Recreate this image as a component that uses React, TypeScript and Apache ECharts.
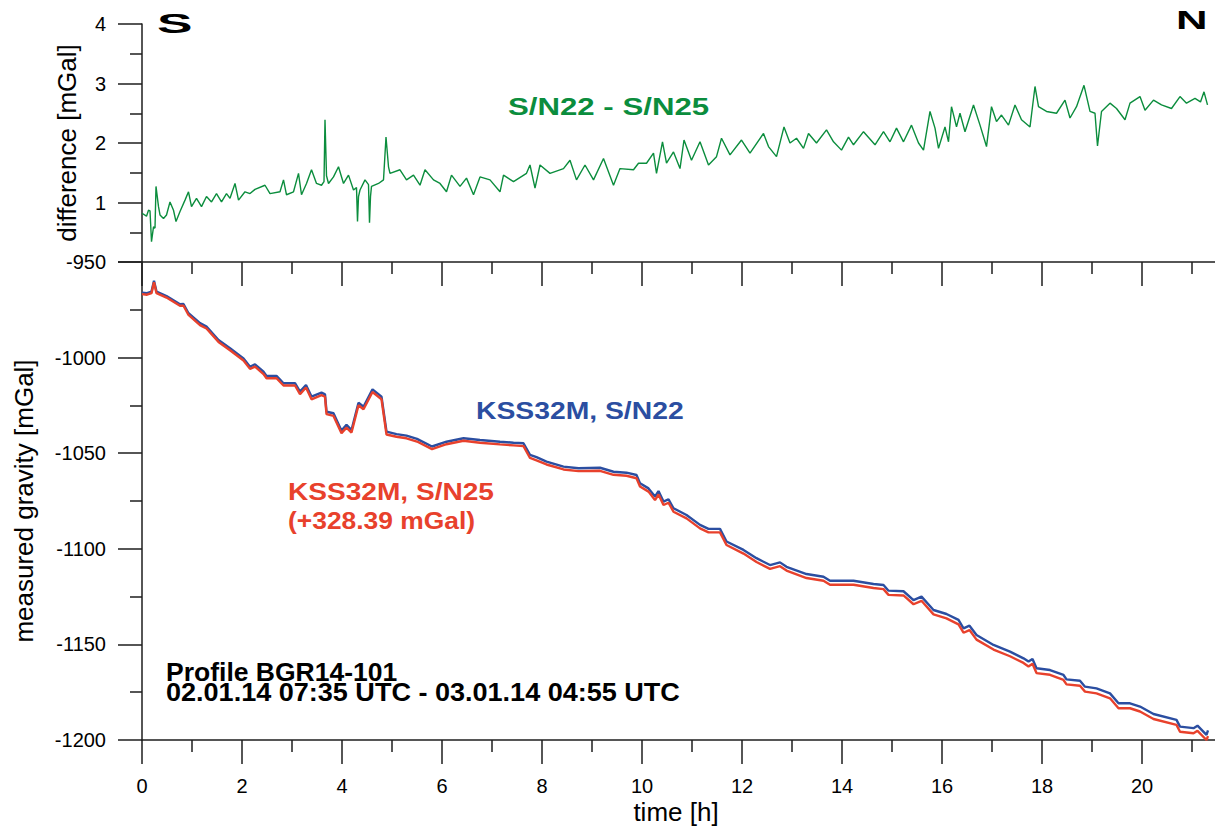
import React, { useEffect, useRef } from "react";
import * as echarts from "echarts";

// ---- data ----
const diffTime = [0,0.09,0.13,0.16,0.19,0.23,0.26,0.28,0.33,0.36,0.43,0.49,0.56,0.63,0.68,0.76,0.86,0.93,0.99,1.09,1.19,1.29,1.39,1.49,1.59,1.69,1.76,1.86,1.93,2.06,2.16,2.26,2.46,2.56,2.76,2.83,2.89,3.03,3.13,3.19,3.29,3.39,3.49,3.59,3.64,3.66,3.69,3.73,3.83,3.93,4.03,4.13,4.23,4.29,4.31,4.33,4.36,4.46,4.53,4.55,4.57,4.59,4.73,4.83,4.88,4.93,4.96,5.16,5.29,5.43,5.56,5.66,5.83,5.96,6.09,6.19,6.36,6.49,6.63,6.76,6.96,7.16,7.23,7.43,7.69,7.76,7.86,7.96,8.16,8.43,8.56,8.69,8.86,9.03,9.23,9.43,9.56,9.83,9.93,10.09,10.23,10.29,10.41,10.49,10.63,10.76,10.84,10.99,11.16,11.33,11.49,11.59,11.76,11.99,12.16,12.43,12.53,12.69,12.84,12.96,13.09,13.23,13.33,13.49,13.69,13.83,13.99,14.13,14.23,14.43,14.66,14.83,14.96,15.09,15.23,15.39,15.53,15.63,15.76,15.86,15.93,16.06,16.13,16.19,16.29,16.36,16.46,16.63,16.76,16.89,16.99,17.09,17.19,17.33,17.46,17.59,17.76,17.86,17.93,18.09,18.29,18.46,18.56,18.69,18.84,18.96,19.06,19.11,19.19,19.36,19.49,19.66,19.76,19.96,20.06,20.23,20.39,20.59,20.76,20.89,21.06,21.17,21.24,21.31];
const diffValues = [0.82,0.77,0.87,0.86,0.34,0.59,0.57,1.27,0.93,0.79,0.73,0.79,1.01,0.87,0.68,0.85,1.04,1.18,0.93,1.07,0.93,1.10,1.01,1.15,1.01,1.15,1.07,1.32,1.04,1.18,1.15,1.22,1.29,1.15,1.18,1.38,1.13,1.18,1.49,1.13,1.32,1.55,1.32,1.29,1.35,2.39,1.45,1.32,1.43,1.60,1.32,1.46,1.21,1.25,0.68,1.10,1.21,1.38,1.30,0.66,1.10,1.27,1.32,1.38,2.10,1.60,1.49,1.55,1.38,1.46,1.29,1.55,1.38,1.32,1.18,1.46,1.27,1.41,1.13,1.43,1.38,1.18,1.46,1.35,1.49,1.63,1.24,1.63,1.49,1.57,1.71,1.38,1.63,1.38,1.74,1.29,1.57,1.55,1.66,1.66,1.83,1.49,2.02,1.66,1.85,1.57,2.05,1.71,2.02,1.63,1.77,2.08,1.80,2.05,1.83,2.16,1.94,1.77,2.27,2.00,2.08,1.91,2.16,2.00,2.22,2.02,1.88,2.10,1.97,2.19,1.97,2.19,2.02,2.25,2.02,2.30,2.00,1.88,2.53,2.25,1.91,2.27,2.02,2.61,2.27,2.50,2.19,2.64,2.30,1.94,2.61,2.36,2.47,2.30,2.64,2.39,2.27,2.95,2.61,2.53,2.50,2.72,2.42,2.61,2.97,2.53,2.50,1.95,2.53,2.67,2.58,2.39,2.67,2.78,2.55,2.72,2.64,2.58,2.78,2.67,2.75,2.69,2.86,2.64];

const gravTime = [0,0.1,0.19,0.24,0.29,0.49,0.76,0.83,0.93,1.16,1.29,1.53,1.76,2.03,2.16,2.26,2.43,2.49,2.69,2.83,3.06,3.16,3.28,3.39,3.59,3.66,3.69,3.83,3.99,4.09,4.19,4.33,4.43,4.61,4.79,4.89,5.09,5.29,5.5,5.8,6.09,6.43,6.76,7.16,7.43,7.63,7.76,7.89,8.09,8.43,8.73,9.16,9.43,9.69,9.89,9.96,10.13,10.26,10.33,10.43,10.53,10.63,10.89,11.16,11.33,11.56,11.69,12.03,12.29,12.56,12.76,12.89,13.29,13.63,13.76,14.23,14.63,14.83,14.93,15.23,15.43,15.59,15.83,16.09,16.33,16.43,16.55,16.69,17.03,17.36,17.63,17.73,17.81,17.89,18.16,18.43,18.49,18.76,18.86,19.09,19.36,19.53,19.76,19.96,20.23,20.69,20.76,21.03,21.11,21.29,21.32];
const sn22Values = [-966.0,-966.3,-965.5,-959.8,-965.5,-967.8,-972.1,-972.0,-976.8,-982.0,-983.8,-990.8,-995.1,-1000.4,-1004.8,-1003.5,-1007.4,-1009.6,-1009.6,-1013.4,-1013.4,-1017.8,-1014.3,-1020.4,-1018.3,-1019.2,-1028.3,-1029.1,-1038.2,-1035.2,-1037.9,-1023.6,-1025.7,-1016.6,-1020.4,-1038.7,-1040.0,-1040.8,-1042.5,-1046.5,-1044.0,-1042.2,-1043.1,-1044.0,-1044.5,-1044.8,-1050.9,-1052.1,-1054.4,-1057.0,-1057.9,-1057.6,-1059.7,-1060.2,-1061.4,-1065.7,-1068.4,-1072.7,-1069.8,-1075.3,-1074.1,-1078.8,-1082.3,-1087.5,-1089.6,-1089.6,-1096.2,-1100.6,-1104.9,-1108.5,-1107.1,-1109.4,-1113.2,-1114.6,-1116.7,-1116.7,-1118.4,-1118.9,-1121.9,-1122.2,-1126.8,-1125.0,-1132.0,-1134.1,-1137.2,-1141.6,-1140.2,-1145.1,-1150.3,-1153.8,-1157.3,-1159.0,-1157.6,-1162.5,-1163.4,-1166.0,-1168.3,-1169.0,-1172.1,-1173.0,-1175.6,-1180.8,-1180.8,-1182.5,-1186.4,-1189.5,-1193.0,-1193.8,-1192.5,-1197.3,-1195.0];
const sn25Values = [-966.8,-967.1,-966.3,-960.6,-966.3,-968.6,-972.9,-972.9,-977.7,-983.0,-984.8,-991.8,-996.2,-1001.5,-1005.9,-1004.7,-1008.6,-1010.8,-1010.8,-1014.6,-1014.6,-1019.1,-1015.6,-1021.8,-1019.6,-1020.5,-1029.6,-1030.5,-1039.5,-1036.6,-1039.2,-1024.9,-1027.0,-1018.0,-1021.8,-1040.2,-1041.4,-1042.2,-1043.9,-1047.9,-1045.3,-1043.5,-1044.5,-1045.4,-1045.9,-1046.3,-1052.5,-1053.7,-1055.9,-1058.5,-1059.4,-1059.2,-1061.3,-1061.8,-1063.1,-1067.4,-1070.1,-1074.5,-1071.6,-1077.1,-1075.9,-1080.6,-1084.1,-1089.3,-1091.4,-1091.4,-1098.0,-1102.5,-1106.9,-1110.5,-1109.1,-1111.4,-1115.3,-1116.7,-1118.8,-1118.8,-1120.5,-1121.1,-1124.1,-1124.4,-1129.0,-1127.2,-1134.3,-1136.4,-1139.5,-1143.9,-1142.5,-1147.5,-1152.7,-1156.2,-1159.7,-1161.5,-1160.1,-1165.0,-1165.9,-1168.6,-1170.9,-1171.6,-1174.7,-1175.6,-1178.2,-1183.4,-1183.4,-1185.1,-1189.0,-1192.1,-1195.7,-1196.5,-1195.2,-1200.0,-1198.0];

const xRange = { min: 0, max: 22, step: 2 };
const diffRange = { min: 0, max: 4, step: 1 };
const gravRange = { min: -1200, max: -950, step: 50 };

const FONT = '"Liberation Sans", Arial, Helvetica, sans-serif';
const AX = "#1e1e1e";
const GREEN = "#0b8d3d";
const BLUE = "#2b4ea1";
const RED = "#e8412c";

function pairs(xs: number[], ys: number[]) {
  return xs.map((x, i) => [x, ys[i]]);
}

const lineStyle = { color: AX, width: 1.5 };

function xAxisDef(gridIndex: number, labels: boolean) {
  return {
    gridIndex,
    type: "value",
    min: xRange.min,
    max: xRange.max,
    interval: xRange.step,
    position: "bottom",
    axisLine: { show: true, onZero: false, lineStyle },
    axisTick: { show: true, inside: false, length: 24, lineStyle },
    minorTick: { show: true, splitNumber: 2, length: 12, lineStyle },
    splitLine: { show: false },
    minorSplitLine: { show: false },
    axisLabel: {
      show: labels,
      margin: 36,
      fontSize: 20,
      color: "#000",
      fontFamily: FONT,
      formatter: (v: number) => (v > 20 ? "" : String(v)),
    },
  };
}

function yAxisDef(gridIndex: number, r: { min: number; max: number; step: number }, name: string, gap: number, hideZero: boolean) {
  return {
    gridIndex,
    type: "value",
    min: r.min,
    max: r.max,
    interval: r.step,
    position: "left",
    axisLine: { show: true, onZero: false, lineStyle },
    axisTick: { show: true, inside: false, length: 24, lineStyle },
    minorTick: { show: true, splitNumber: 2, length: 12, lineStyle },
    splitLine: { show: false },
    minorSplitLine: { show: false },
    axisLabel: {
      margin: 36,
      fontSize: 20,
      color: "#000",
      fontFamily: FONT,
      showMinLabel: true,
      showMaxLabel: true,
      formatter: (v: number) => (hideZero && v === 0 ? "" : String(v)),
    },
    name,
    nameLocation: "middle",
    nameGap: gap,
    nameTextStyle: { fontSize: 26, color: "#000", fontFamily: FONT },
  };
}

function label(text: string, x: number, y: number, size: number, color: string, scaleX: number, bold = true) {
  return {
    type: "text",
    x,
    y,
    scaleX,
    style: {
      text,
      fill: color,
      fontSize: size,
      fontWeight: bold ? "bold" : "normal",
      fontFamily: FONT,
      align: "left",
      verticalAlign: "middle",
    },
  };
}

export default function App() {
  const ref = useRef<HTMLDivElement>(null);
  useEffect(() => {
    if (!ref.current) return;
    const chart = echarts.init(ref.current, undefined, { renderer: "svg" });
    chart.setOption({
      animation: false,
      backgroundColor: "#ffffff",
      grid: [
        { left: 142, top: 24, width: 1100, height: 238 },
        { left: 142, top: 262, width: 1100, height: 478 },
      ],
      xAxis: [xAxisDef(0, false), xAxisDef(1, true)],
      yAxis: [
        yAxisDef(0, diffRange, "difference [mGal]", 62, true),
        yAxisDef(1, gravRange, "measured gravity [mGal]", 105, false),
      ],
      series: [
        {
          name: "S/N22 - S/N25",
          type: "line",
          xAxisIndex: 0,
          yAxisIndex: 0,
          data: pairs(diffTime, diffValues),
          showSymbol: false,
          symbol: "none",
          lineStyle: { color: GREEN, width: 1.4 },
        },
        {
          name: "KSS32M, S/N22",
          type: "line",
          xAxisIndex: 1,
          yAxisIndex: 1,
          data: pairs(gravTime, sn22Values),
          showSymbol: false,
          symbol: "none",
          lineStyle: { color: BLUE, width: 2.4 },
        },
        {
          name: "KSS32M, S/N25",
          type: "line",
          xAxisIndex: 1,
          yAxisIndex: 1,
          data: pairs(gravTime, sn25Values),
          showSymbol: false,
          symbol: "none",
          lineStyle: { color: RED, width: 2.4 },
        },
      ],
      graphic: [
        label("S", 157, 23, 28, "#000", 1.9),
        label("N", 1176, 21, 25, "#000", 1.75),
        label("S/N22 - S/N25", 508, 106.5, 24, GREEN, 1.3),
        label("KSS32M, S/N22", 476, 411, 24, BLUE, 1.18),
        label("KSS32M, S/N25", 288, 492, 24, RED, 1.17),
        label("(+328.39 mGal)", 288, 520, 24, RED, 1.1),
        label("Profile BGR14-101", 166, 672.5, 26, "#000", 1.02),
        label("02.01.14 07:35 UTC - 03.01.14 04:55 UTC", 166, 692.5, 26, "#000", 1.04),
        {
          type: "text",
          x: 676,
          y: 812,
          style: {
            text: "time [h]",
            fill: "#000",
            fontSize: 26,
            fontFamily: FONT,
            align: "center",
            verticalAlign: "middle",
          },
        },
      ],
    });
    return () => chart.dispose();
  }, []);
  return (
    <div style={{ position: "fixed", left: 0, top: 0, width: 1215, height: 830, overflow: "hidden", background: "#fff" }}>
      <div ref={ref} style={{ width: 1250, height: 830 }} />
    </div>
  );
}
